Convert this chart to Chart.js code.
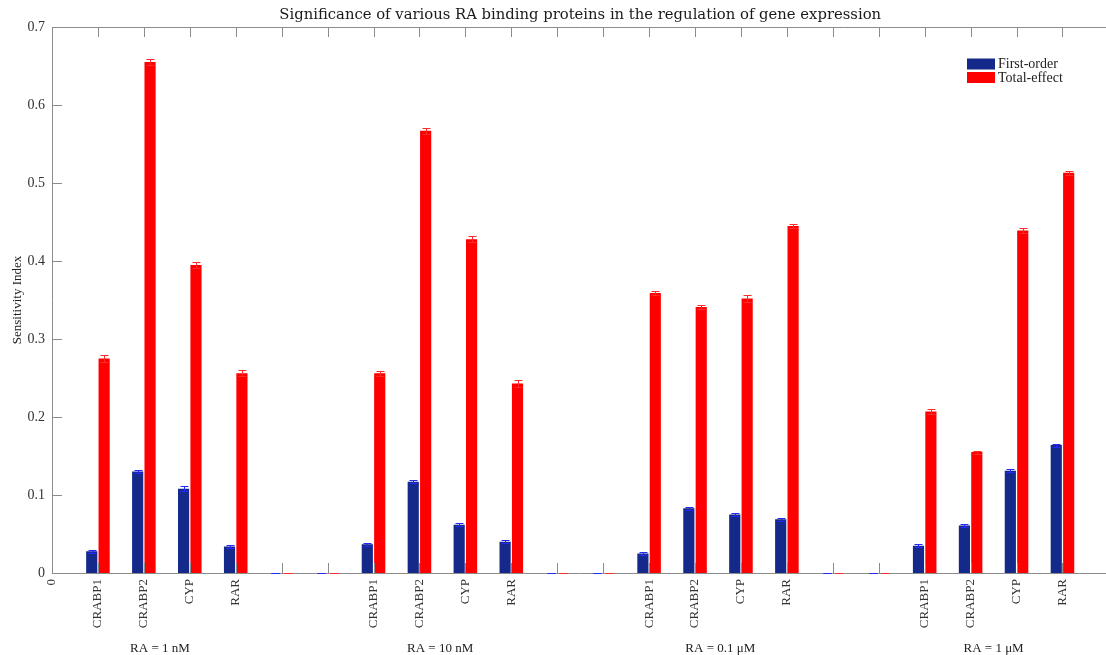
<!DOCTYPE html>
<html>
<head>
<meta charset="utf-8">
<script src="https://cdn.jsdelivr.net/npm/chart.js@4/dist/chart.umd.min.js"></script>
<style>
  html, body { margin: 0; padding: 0; background: #fff; }
  #wrap { width: 1106px; height: 655px; overflow: hidden; position: relative; }
  canvas { display: block; }
</style>
</head>
<body>
<div id="wrap"><canvas id="c" width="1130" height="655" style="width:1130px;height:655px"></canvas></div>
<script>
// Slots along the x axis: a leading "0" slot, four proteins per RA concentration,
// and two spacer slots between concentrations.
const slotLabels = ['0', 'CRABP1', 'CRABP2', 'CYP', 'RAR', '', '',
  'CRABP1', 'CRABP2', 'CYP', 'RAR', '', '',
  'CRABP1', 'CRABP2', 'CYP', 'RAR', '', '',
  'CRABP1', 'CRABP2', 'CYP', 'RAR', ''];

// RA concentration captions and their centre positions in slot units.
const concentrations = ['RA = 1 nM', 'RA = 10 nM', 'RA = 0.1 \u03BCM', 'RA = 1 \u03BCM'];
const concentrationPos = [2.35, 8.45, 14.55, 20.5];

const yTicks = [0, 0.1, 0.2, 0.3, 0.4, 0.5, 0.6, 0.7];

const firstOrder = [null, 0.028, 0.130, 0.108, 0.034, 0, 0,
  0.037, 0.117, 0.062, 0.040, 0, 0,
  0.025, 0.083, 0.075, 0.069, 0, 0,
  0.035, 0.061, 0.131, 0.164, null];
const firstOrderErr = [null, 0.002, 0.002, 0.003, 0.002, 0.0005, 0.0005,
  0.002, 0.002, 0.002, 0.002, 0.0005, 0.0005,
  0.002, 0.002, 0.002, 0.002, 0.0005, 0.0005,
  0.002, 0.002, 0.002, 0.002, null];

const totalEffect = [null, 0.275, 0.655, 0.395, 0.256, 0, 0,
  0.256, 0.567, 0.428, 0.243, 0, 0,
  0.359, 0.341, 0.352, 0.445, 0, 0,
  0.207, 0.155, 0.439, 0.513, null];
const totalEffectErr = [null, 0.004, 0.004, 0.004, 0.004, 0.0005, 0.0005,
  0.003, 0.004, 0.004, 0.004, 0.0005, 0.0005,
  0.003, 0.003, 0.004, 0.003, 0.0005, 0.0005,
  0.003, 0.002, 0.003, 0.003, null];

const AXIS_GREY = '#8c8c8c';
const TEXT_GREY = '#333333';
const SERIF = '"Liberation Serif", "Times New Roman", serif';
const HEAD_SERIF = '"DejaVu Serif", "Liberation Serif", serif';

// Error bars, drawn on top of each bar from the dataset's errors array.
const errorBars = {
  id: 'errorBars',
  afterDatasetsDraw(chart) {
    const ctx = chart.ctx;
    const y = chart.scales.y;
    chart.data.datasets.forEach((ds, di) => {
      const meta = chart.getDatasetMeta(di);
      ctx.save();
      ctx.strokeStyle = ds.errorColor;
      ctx.lineWidth = 1;
      meta.data.forEach((bar, i) => {
        const v = ds.data[i], e = ds.errors[i];
        if (v === null || e === null) return;
        const x = Math.round(bar.x) + 0.5;
        const yTop = Math.round(y.getPixelForValue(v + e)) + 0.5;
        const yBot = Math.round(y.getPixelForValue(v - e)) + 0.5;
        const half = 4;
        ctx.beginPath();
        ctx.moveTo(x, yTop); ctx.lineTo(x, yBot);
        ctx.moveTo(x - half, yTop); ctx.lineTo(x + half, yTop);
        ctx.moveTo(x - half, yBot); ctx.lineTo(x + half, yBot);
        ctx.stroke();
      });
      ctx.restore();
    });
  }
};

// Box outline and inward-pointing tick marks.
const innerTicks = {
  id: 'innerTicks',
  afterDatasetsDraw(chart) {
    const ctx = chart.ctx;
    const a = chart.chartArea;
    const xs = chart.scales.x, ys = chart.scales.y;
    const len = 10;
    ctx.save();
    ctx.strokeStyle = AXIS_GREY;
    ctx.lineWidth = 1;
    ctx.beginPath();
    ctx.moveTo(a.left, Math.round(a.top) + 0.5);
    ctx.lineTo(a.right, Math.round(a.top) + 0.5);
    xs.ticks.forEach((t, i) => {
      const px = Math.round(xs.getPixelForTick(i)) + 0.5;
      ctx.moveTo(px, a.bottom); ctx.lineTo(px, a.bottom - len);
      ctx.moveTo(px, a.top); ctx.lineTo(px, a.top + len);
    });
    ys.ticks.forEach((t, i) => {
      const py = Math.round(ys.getPixelForTick(i)) + 0.5;
      ctx.moveTo(a.left, py); ctx.lineTo(a.left + len, py);
    });
    ctx.stroke();
    ctx.restore();
  }
};

// Concentration captions under each group of protein labels,
// positioned through the x scale.
const groupCaptions = {
  id: 'groupCaptions',
  afterDraw(chart, args, opts) {
    const ctx = chart.ctx;
    const xs = chart.scales.x;
    ctx.save();
    ctx.font = opts.font;
    ctx.fillStyle = opts.color;
    ctx.textAlign = 'center';
    ctx.textBaseline = 'alphabetic';
    concentrations.forEach((txt, i) => {
      ctx.fillText(txt, xs.getPixelForValue(concentrationPos[i]), opts.baseline);
    });
    ctx.restore();
  }
};

// Chart title, centred over the plot box.
const boxTitle = {
  id: 'boxTitle',
  afterDraw(chart, args, opts) {
    const ctx = chart.ctx;
    const a = chart.chartArea;
    ctx.save();
    ctx.font = opts.font;
    ctx.fillStyle = opts.color;
    ctx.textAlign = 'center';
    ctx.textBaseline = 'alphabetic';
    ctx.fillText(opts.text, (a.left + a.right) / 2, opts.baseline);
    ctx.restore();
  }
};

// Legend placed inside the plot box, near the top right.
const innerLegend = {
  id: 'innerLegend',
  afterDraw(chart, args, opts) {
    const ctx = chart.ctx;
    ctx.save();
    ctx.font = opts.font;
    ctx.textBaseline = 'middle';
    ctx.textAlign = 'left';
    chart.data.datasets.forEach((ds, i) => {
      const top = opts.y + i * opts.rowHeight;
      ctx.fillStyle = ds.backgroundColor;
      ctx.fillRect(opts.x, top, opts.boxWidth, opts.boxHeight);
      ctx.fillStyle = opts.color;
      ctx.fillText(ds.label, opts.x + opts.boxWidth + 3, top + opts.boxHeight / 2 + 0.5);
    });
    ctx.restore();
  }
};

new Chart(document.getElementById('c'), {
  type: 'bar',
  data: {
    labels: slotLabels,
    datasets: [
      {
        label: 'First-order',
        data: firstOrder,
        errors: firstOrderErr,
        backgroundColor: '#14298a',
        errorColor: '#2626ff',
        categoryPercentage: 0.54,
        barPercentage: 0.9
      },
      {
        label: 'Total-effect',
        data: totalEffect,
        errors: totalEffectErr,
        backgroundColor: '#ff0000',
        errorColor: '#ff2a2a',
        categoryPercentage: 0.54,
        barPercentage: 0.9
      }
    ]
  },
  options: {
    responsive: false,
    animation: false,
    devicePixelRatio: 1,
    layout: { padding: { top: 27, left: 0, right: 13, bottom: 0 } },
    plugins: {
      legend: { display: false },
      tooltip: { enabled: false },
      title: { display: false },
      boxTitle: {
        text: 'Significance of various RA binding proteins in the regulation of gene expression',
        font: '14.8px ' + HEAD_SERIF,
        color: '#1a1a1a',
        baseline: 19
      },
      groupCaptions: {
        font: '13px ' + SERIF,
        color: '#222',
        baseline: 652
      },
      innerLegend: {
        x: 967, y: 58.5, boxWidth: 28, boxHeight: 11, rowHeight: 13.5,
        font: '14px ' + SERIF, color: '#222'
      }
    },
    scales: {
      x: {
        type: 'category',
        offset: false,
        position: 'bottom',
        grid: { display: false, drawTicks: false, tickLength: 0 },
        border: { display: true, color: AXIS_GREY, width: 1 },
        ticks: {
          autoSkip: false,
          minRotation: 90,
          maxRotation: 90,
          padding: 6,
          color: TEXT_GREY,
          font: { family: SERIF, size: 13 }
        },
        afterFit(s) { s.height = 82; }
      },
      y: {
        type: 'linear',
        min: 0,
        max: 0.7,
        grid: { display: false, drawTicks: false, tickLength: 0 },
        border: { display: true, color: AXIS_GREY, width: 1 },
        afterBuildTicks(s) { s.ticks = yTicks.map(v => ({ value: v })); },
        ticks: {
          padding: 7,
          color: TEXT_GREY,
          font: { family: SERIF, size: 14 },
          callback: v => (v === 0 ? '0' : v.toFixed(1))
        },
        title: {
          display: true,
          text: 'Sensitivity Index',
          color: '#222',
          font: { family: SERIF, size: 13 },
          padding: { top: 10, bottom: 0 }
        },
        afterFit(s) { s.width = 52; }
      }
    }
  },
  plugins: [errorBars, innerTicks, groupCaptions, boxTitle, innerLegend]
});
</script>
</body>
</html>
